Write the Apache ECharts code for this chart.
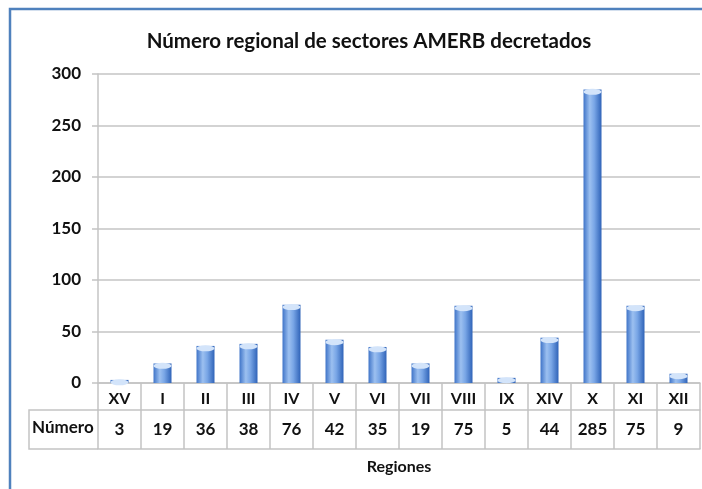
<!DOCTYPE html>
<html>
<head>
<meta charset="utf-8">
<script src="https://cdn.jsdelivr.net/npm/echarts@6/dist/echarts.min.js"></script>
<style>
  html, body { margin: 0; padding: 0; background: #fff; }
  #chart { width: 702px; height: 489px; }
</style>
</head>
<body>
<div id="chart"></div>
<script>
var regiones = ['XV', 'I', 'II', 'III', 'IV', 'V', 'VI', 'VII', 'VIII', 'IX', 'XIV', 'X', 'XI', 'XII'];
var numero = [3, 19, 36, 38, 76, 42, 35, 19, 75, 5, 44, 285, 75, 9];
var yTicks = [0, 50, 100, 150, 200, 250, 300];

var font = 'Lato, "Open Sans", sans-serif';
var gridCol = '#c4c4c4';

var myChart = echarts.init(document.getElementById('chart'));

// cylinder look: light streak left of centre, darker edges
var barColor = {
  type: 'linear', x: 0, y: 0, x2: 1, y2: 0,
  colorStops: [
    { offset: 0, color: '#3f74c8' },
    { offset: 0.35, color: '#9cc0f0' },
    { offset: 0.6, color: '#79a6e6' },
    { offset: 1, color: '#2f63b8' }
  ]
};

myChart.setOption({
  animation: false,
  title: {
    text: 'Número regional de sectores AMERB decretados',
    left: 364, top: 26, textAlign: 'center',
    textStyle: { fontFamily: font, fontSize: 20.5, fontWeight: 'bold', color: '#111' }
  },
  grid: { left: 98, right: 2, top: 74, bottom: 106 },
  xAxis: [
    {
      type: 'category', data: regiones, position: 'bottom',
      axisLine: { lineStyle: { color: gridCol, width: 1.5 } },
      axisTick: { show: true, length: 66, alignWithLabel: false, lineStyle: { color: gridCol, width: 1.5 } },
      axisLabel: { margin: 8, fontFamily: font, fontSize: 16, fontWeight: 'bold', color: '#111' }
    },
    {
      type: 'category', data: numero.map(String), position: 'bottom', offset: 27,
      axisLine: { lineStyle: { color: gridCol, width: 1.5 } },
      axisTick: { show: false },
      axisLabel: { margin: 11, fontFamily: font, fontSize: 17, fontWeight: 'bold', color: '#111' }
    },
    {
      type: 'category', data: regiones, position: 'bottom', offset: 66,
      axisLine: { lineStyle: { color: gridCol, width: 1.5 } },
      axisTick: { show: false },
      axisLabel: { show: false },
      name: 'Regiones', nameLocation: 'middle', nameGap: 10,
      nameTextStyle: { fontFamily: font, fontSize: 16, fontWeight: 'bold', color: '#111' }
    }
  ],
  yAxis: {
    type: 'value', min: yTicks[0], max: yTicks[yTicks.length - 1], interval: 50,
    axisLine: { show: true, lineStyle: { color: gridCol, width: 1.5 } },
    axisTick: { show: true, length: 6, lineStyle: { color: gridCol, width: 1.5 } },
    axisLabel: { margin: 17, fontFamily: font, fontSize: 17, fontWeight: 'bold', color: '#111' },
    splitLine: { lineStyle: { color: gridCol, width: 1.5 } }
  },
  graphic: [
    { type: 'polyline', shape: { points: [[10, 489], [10, 9], [702, 9]] },
      style: { stroke: '#4f81bd', lineWidth: 2.5, fill: null } },
    { type: 'polyline', shape: { points: [[98, 410], [29, 410], [29, 449], [98, 449]] },
      style: { stroke: gridCol, lineWidth: 1.5, fill: null } },
    { type: 'text', left: 32, top: 419,
      style: { text: 'Número', fontFamily: font, fontSize: 17, fontWeight: 'bold', fill: '#111' } }
  ],
  series: [
    {
      type: 'bar', data: numero, barWidth: 18, xAxisIndex: 0,
      itemStyle: { color: barColor }
    },
    {
      type: 'pictorialBar', data: numero, xAxisIndex: 0,
      symbol: 'circle', symbolSize: [18, 6], symbolPosition: 'end', symbolOffset: [0, '-10%'],
      itemStyle: { color: '#d3e4fa' }, z: 3
    }
  ]
});
</script>
</body>
</html>
